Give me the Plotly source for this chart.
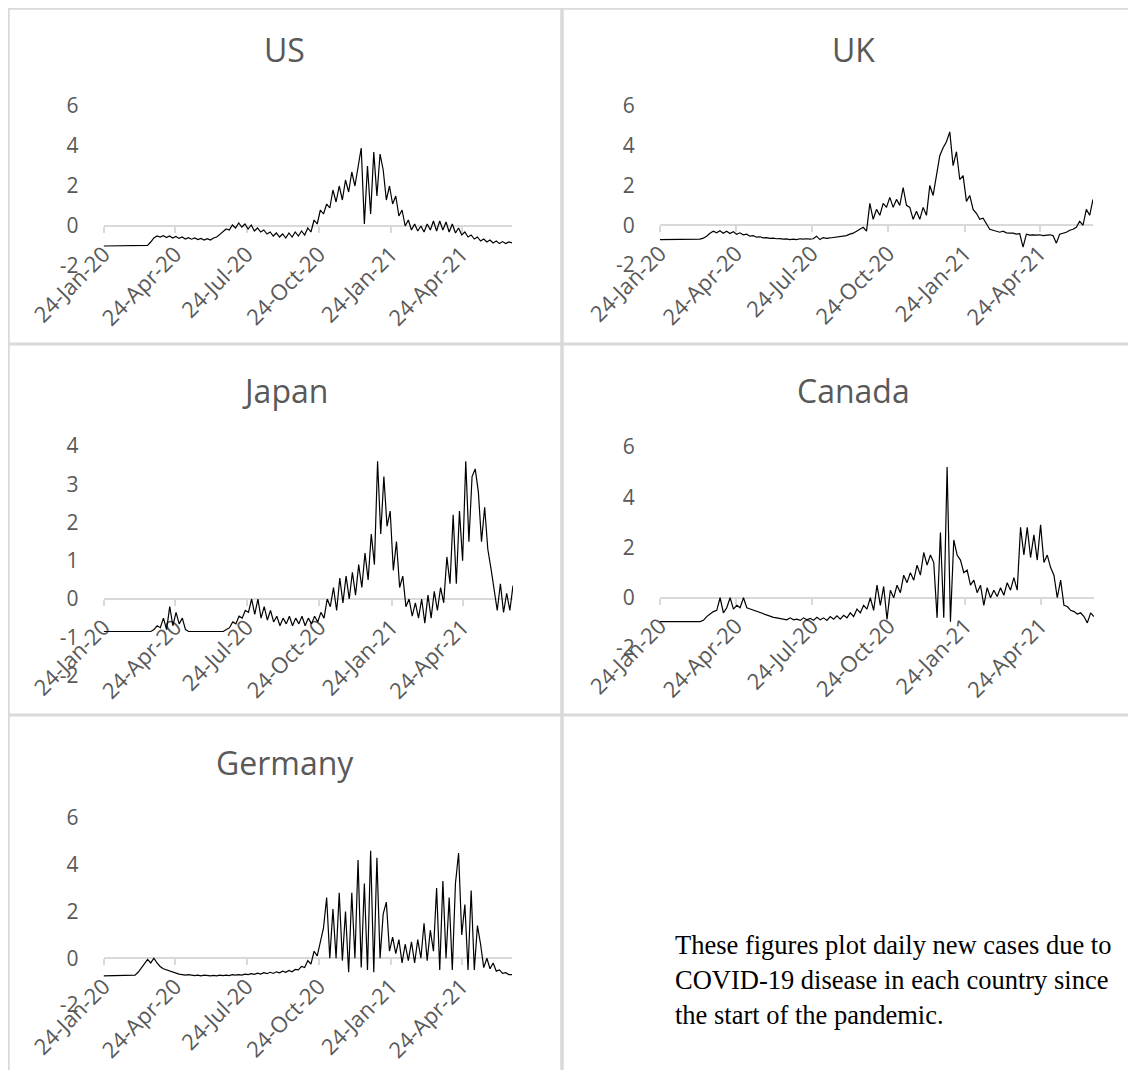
import plotly.graph_objects as go
import pandas as pd

# page offset: the browser body has an 8px margin around the figure
OFF = 8
W, H = 1136 - OFF, 1070 - OFF

# ---------------- data (one value every 4 days) ----------------
dates = pd.date_range("2020-01-24", periods=131, freq="4D")

us = [-1.0, -1.0, -1.0, -1.0, -1.0, -1.0, -1.0, -1.0, -1.0, -1.0,
      -1.0, -1.0, -1.0, -1.0, -0.97, -0.8, -0.6, -0.5, -0.55, -0.48,
      -0.58, -0.5, -0.6, -0.52, -0.62, -0.55, -0.65, -0.58, -0.66, -0.6,
      -0.68, -0.62, -0.7, -0.63, -0.7, -0.6, -0.55, -0.42, -0.3, -0.15,
      -0.2, 0.05, -0.1, 0.15, -0.05, 0.1, -0.15, 0.05, -0.25, -0.1,
      -0.3, -0.2, -0.4, -0.3, -0.5, -0.35, -0.55, -0.4, -0.6, -0.35,
      -0.55, -0.3, -0.5, -0.25, -0.45, -0.1, -0.3, 0.3, 0.1, 0.8,
      0.6, 1.1, 0.9, 1.8, 1.2, 2.0, 1.3, 2.3, 1.7, 2.7,
      2.0, 2.9, 3.9, 0.1, 3.0, 0.6, 3.7, 1.5, 3.6, 2.8,
      1.3, 2.0, 1.1, 1.5, 0.5, 0.8, 0.0, 0.3, -0.2, 0.1,
      -0.25, 0.0, -0.3, 0.1, -0.2, 0.25, -0.25, 0.25, -0.2, 0.2,
      -0.3, 0.1, -0.35, -0.1, -0.45, -0.3, -0.55, -0.45, -0.65, -0.55,
      -0.75, -0.65, -0.8, -0.7, -0.85, -0.75, -0.88, -0.78, -0.88, -0.8,
      -0.85]

uk = [-0.72, -0.72, -0.72, -0.72, -0.72, -0.72, -0.72, -0.72, -0.72, -0.72,
      -0.72, -0.72, -0.7, -0.65, -0.55, -0.4, -0.3, -0.38, -0.28, -0.4,
      -0.3, -0.42, -0.32, -0.45, -0.38, -0.48, -0.45, -0.55, -0.52, -0.6,
      -0.58, -0.63, -0.62, -0.66, -0.65, -0.68, -0.67, -0.7, -0.69, -0.72,
      -0.7, -0.72, -0.68, -0.7, -0.68, -0.7, -0.68, -0.55, -0.72, -0.62,
      -0.66, -0.64, -0.62, -0.6, -0.58, -0.55, -0.52, -0.45, -0.4, -0.3,
      -0.22, -0.1, -0.3, 1.1, 0.3, 0.8, 0.5, 1.1, 0.9, 1.4,
      0.9, 1.3, 1.0, 1.9, 1.0, 0.9, 0.3, 0.7, 0.3, 0.9,
      0.5, 2.0, 1.5, 2.4, 3.5, 3.9, 4.2, 4.7, 3.0, 3.7,
      2.3, 2.5, 1.2, 1.5, 0.8, 0.6, 0.3, 0.35, 0.05, -0.2,
      -0.25, -0.3, -0.35, -0.3, -0.38, -0.4, -0.4, -0.45, -0.42, -1.1,
      -0.45, -0.5, -0.48, -0.5, -0.48, -0.52, -0.5, -0.48, -0.52, -0.9,
      -0.45, -0.4, -0.35, -0.25, -0.2, -0.1, 0.2, 0.0, 0.8, 0.5,
      1.3]

japan = [-0.85, -0.85, -0.85, -0.85, -0.85, -0.85, -0.85, -0.85, -0.85, -0.85,
         -0.85, -0.85, -0.85, -0.85, -0.85, -0.85, -0.8, -0.7, -0.75, -0.5,
         -0.8, -0.2, -0.7, -0.35, -0.65, -0.5, -0.8, -0.85, -0.85, -0.85,
         -0.85, -0.85, -0.85, -0.85, -0.85, -0.85, -0.85, -0.85, -0.85, -0.8,
         -0.75, -0.6, -0.65, -0.45, -0.5, -0.3, -0.35, 0.0, -0.4, 0.0,
         -0.5, -0.2, -0.55, -0.3, -0.6, -0.45, -0.7, -0.5, -0.65, -0.45,
         -0.7, -0.5, -0.65, -0.45, -0.7, -0.5, -0.65, -0.45, -0.6, -0.35,
         -0.5, 0.0, -0.2, 0.3, -0.3, 0.55, -0.1, 0.6, 0.0, 0.7,
         0.1, 0.9, 0.3, 1.2, 0.5, 1.7, 0.9, 3.6, 1.7, 3.2,
         1.9, 2.3, 0.75, 1.5, 0.3, 0.6, -0.2, 0.0, -0.45, -0.1,
         -0.5, 0.0, -0.63, 0.1, -0.5, 0.2, -0.3, 0.3, -0.1, 1.1,
         0.4, 2.2, 0.4, 2.3, 1.0, 3.6, 1.5, 3.2, 3.4, 2.8,
         1.5, 2.4, 1.3, 0.8, 0.2, -0.3, 0.4, -0.35, 0.15, -0.3,
         0.35]

canada = [-0.95, -0.95, -0.95, -0.95, -0.95, -0.95, -0.95, -0.95, -0.95, -0.95,
          -0.95, -0.95, -0.95, -0.9, -0.75, -0.65, -0.55, -0.5, 0.0, -0.6,
          -0.4, 0.0, -0.45, -0.3, -0.4, 0.0, -0.4, -0.45, -0.5, -0.55,
          -0.6, -0.65, -0.7, -0.75, -0.78, -0.8, -0.83, -0.85, -0.88, -0.8,
          -0.88, -0.85, -0.9, -0.8, -0.88, -0.82, -0.9, -0.78, -0.88, -0.8,
          -0.9, -0.75, -0.85, -0.72, -0.85, -0.7, -0.8, -0.6, -0.75, -0.45,
          -0.6, -0.3, -0.45, 0.0, -0.5, 0.5, -0.3, 0.45, -0.86, 0.3,
          0.0, 0.5, 0.2, 0.9, 0.6, 1.0, 0.7, 1.3, 0.9, 1.8,
          1.3, 1.7, 1.4, -0.8, 2.6, -0.8, 5.2, -0.95, 2.3, 1.7,
          1.5, 1.0, 1.1, 0.5, 0.7, 0.2, 0.5, -0.3, 0.4, 0.0,
          0.3, 0.05, 0.4, 0.1, 0.6, 0.3, 0.8, 0.3, 2.8, 1.7,
          2.8, 1.6, 2.5, 1.5, 2.9, 1.4, 1.7, 1.2, 0.9, 0.0,
          0.7, -0.3, -0.35, -0.5, -0.55, -0.65, -0.6, -0.75, -1.0, -0.6,
          -0.75]

germany = [-0.75, -0.75, -0.75, -0.75, -0.75, -0.75, -0.75, -0.75, -0.75, -0.75,
           -0.72, -0.6, -0.4, -0.25, -0.05, -0.2, 0.0, -0.2, -0.35, -0.45,
           -0.5, -0.55, -0.6, -0.65, -0.68, -0.7, -0.72, -0.7, -0.72, -0.74,
           -0.72, -0.75, -0.72, -0.74, -0.75, -0.73, -0.75, -0.72, -0.74, -0.72,
           -0.74, -0.7, -0.72, -0.7, -0.72, -0.68, -0.7, -0.66, -0.69, -0.64,
           -0.68, -0.62, -0.66, -0.6, -0.65, -0.58, -0.62, -0.55, -0.6, -0.52,
           -0.58, -0.48, -0.5, -0.35, -0.4, -0.1, -0.25, 0.3, 0.1, 0.7,
           1.3, 2.6, 0.0, 2.1, 0.0, 2.8, -0.1, 2.0, -0.6, 2.8,
           0.0, 4.2, -0.4, 3.2, -0.5, 4.6, -0.6, 4.3, 0.0, 1.9,
           2.4, 0.3, 0.9, 0.2, 0.8, -0.2, 0.6, -0.1, 0.7, -0.2,
           0.8, 0.0, 1.5, -0.1, 1.2, 0.3, 3.0, -0.5, 3.3, 0.0,
           2.6, -0.5, 3.2, 4.5, 1.0, 2.3, -0.5, 2.9, -0.5, 1.4,
           0.6, -0.4, 0.0, -0.45, -0.2, -0.55, -0.5, -0.65, -0.62, -0.7,
           -0.7]

series = {"US": us, "UK": uk, "Japan": japan, "Canada": canada, "Germany": germany}

tick_dates = ["2020-01-24", "2020-04-24", "2020-07-24", "2020-10-24", "2021-01-24", "2021-04-24"]
tick_labels = ["24-Jan-20", "24-Apr-20", "24-Jul-20", "24-Oct-20", "24-Jan-21", "24-Apr-21"]

note_lines = ["These figures plot daily new cases due to",
              "COVID-19 disease in each country since",
              "the start of the pandemic."]

# ---------------- layout (pixel geometry of each panel, in screen pixels) ----------------
panel_geo = {
    "US":      dict(x0=103.6, x1=512,  ymin=-2, ymax=6, ytop=106, ybot=266,   dtick=2, tx=284, ty=50),
    "UK":      dict(x0=660,   x1=1093, ymin=-2, ymax=6, ytop=106, ybot=265,   dtick=2, tx=853, ty=50),
    "Japan":   dict(x0=103.6, x1=513,  ymin=-2, ymax=4, ytop=446, ybot=675.5, dtick=1, tx=285, ty=390),
    "Canada":  dict(x0=660,   x1=1094, ymin=-2, ymax=6, ytop=447, ybot=648,   dtick=2, tx=853, ty=390),
    "Germany": dict(x0=103.6, x1=512,  ymin=-2, ymax=6, ytop=818, ybot=1005,  dtick=2, tx=285, ty=762),
}

GRAY_TXT = "#595959"
GRAY_LN = "#d9d9d9"
FONT = "Open Sans"


def px_x(x):
    return (x - OFF) / W


def px_y(y):
    return 1 - (y - OFF) / H


fig = go.Figure()
layout = dict(
    width=W, height=H, margin=dict(l=0, r=0, t=0, b=0),
    paper_bgcolor="white", plot_bgcolor="white", showlegend=False,
    annotations=[], shapes=[],
)

for i, (name, vals) in enumerate(series.items(), start=1):
    g = panel_geo[name]
    xa = "x" if i == 1 else f"x{i}"
    ya = "y" if i == 1 else f"y{i}"
    fig.add_trace(go.Scatter(x=dates, y=vals, mode="lines", xaxis=xa, yaxis=ya,
                             line=dict(color="black", width=1.2), hoverinfo="skip"))
    y0px = g["ybot"] - (0 - g["ymin"]) / (g["ymax"] - g["ymin"]) * (g["ybot"] - g["ytop"])
    layout[f"xaxis{i}" if i > 1 else "xaxis"] = dict(
        domain=[px_x(g["x0"]), px_x(g["x1"])], anchor="free", position=px_y(y0px),
        type="date", range=[dates[0], dates[-1]],
        tickvals=tick_dates, ticktext=tick_labels, tickangle=-45,
        ticks="outside", ticklen=6, tickcolor=GRAY_LN, tickwidth=1.5,
        showline=True, linecolor=GRAY_LN, linewidth=1.5,
        showgrid=False, zeroline=False, layer="below traces",
        tickfont=dict(family=FONT, size=22, color=GRAY_TXT), automargin=False,
    )
    ytv = list(range(g["ymin"], g["ymax"] + 1, g["dtick"]))
    layout[f"yaxis{i}" if i > 1 else "yaxis"] = dict(
        domain=[px_y(g["ybot"]), px_y(g["ytop"])], anchor=xa,
        range=[g["ymin"], g["ymax"]], tickvals=ytv, ticktext=[str(v) for v in ytv],
        showgrid=False, zeroline=False, showline=False,
        ticks="outside", ticklen=20, tickcolor="rgba(0,0,0,0)",
        tickfont=dict(family=FONT, size=21, color=GRAY_TXT), automargin=False,
    )
    layout["annotations"].append(dict(
        text=name, x=px_x(g["tx"]), y=px_y(g["ty"]), xref="paper", yref="paper",
        xanchor="center", yanchor="middle", showarrow=False,
        font=dict(family=FONT, size=32, color=GRAY_TXT)))

# note text in the empty panel
for k, line in enumerate(note_lines):
    layout["annotations"].append(dict(
        text=line, x=px_x(673), y=px_y(945 + 35 * k), xref="paper", yref="paper",
        xanchor="left", yanchor="middle", showarrow=False,
        font=dict(family="Liberation Serif", size=26.5, color="black")))


# panel borders
def hline(y, x0=7, x1=1136, w=3):
    return dict(type="line", xref="paper", yref="paper", x0=px_x(x0), x1=px_x(x1),
                y0=px_y(y), y1=px_y(y), line=dict(color=GRAY_LN, width=w), layer="below")


def vline(x, y0=7, y1=1070, w=3):
    return dict(type="line", xref="paper", yref="paper", x0=px_x(x), x1=px_x(x),
                y0=px_y(y0), y1=px_y(y1), line=dict(color=GRAY_LN, width=w), layer="below")


layout["shapes"] = [hline(8.5, w=2.5), vline(8.5, w=2.5), vline(562, w=3.5), hline(344), hline(715)]

fig.update_layout(**layout)
fig.write_html("out.html")
